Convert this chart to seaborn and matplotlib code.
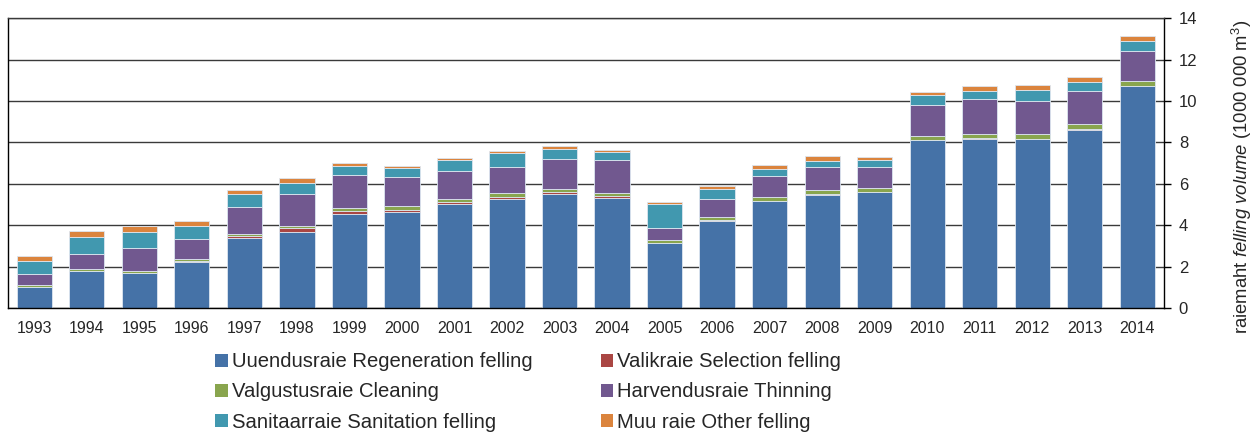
import numpy as np
import pandas as pd
import matplotlib
matplotlib.use("Agg")
import matplotlib.pyplot as plt
from matplotlib.patches import Patch
from matplotlib.ticker import MultipleLocator
import seaborn as sns

years = list(range(1993, 2015))
regeneration = [1.00, 1.78, 1.68, 2.22, 3.38, 3.68, 4.56, 4.66, 5.04, 5.28, 5.52,
                5.33, 3.13, 4.21, 5.15, 5.48, 5.59, 8.11, 8.17, 8.14, 8.61, 10.71]
selection = [0.02, 0.02, 0.03, 0.05, 0.08, 0.18, 0.14, 0.09, 0.08, 0.10, 0.10,
             0.06, 0.02, 0.02, 0.02, 0.02, 0.02, 0.02, 0.02, 0.02, 0.02, 0.02]
cleaning = [0.10, 0.07, 0.10, 0.11, 0.12, 0.09, 0.15, 0.16, 0.14, 0.16, 0.14,
            0.15, 0.12, 0.15, 0.18, 0.21, 0.18, 0.20, 0.21, 0.24, 0.25, 0.22]
thinning = [0.50, 0.75, 1.09, 0.95, 1.32, 1.54, 1.58, 1.43, 1.34, 1.25, 1.43,
            1.59, 0.58, 0.87, 1.01, 1.08, 1.02, 1.49, 1.68, 1.62, 1.62, 1.47]
sanitation = [0.67, 0.83, 0.75, 0.62, 0.59, 0.56, 0.42, 0.43, 0.56, 0.71, 0.47,
              0.41, 1.19, 0.51, 0.33, 0.31, 0.32, 0.47, 0.42, 0.52, 0.41, 0.48]
other = [0.20, 0.26, 0.32, 0.26, 0.21, 0.22, 0.14, 0.08, 0.08, 0.08, 0.16,
         0.08, 0.08, 0.13, 0.21, 0.26, 0.18, 0.16, 0.24, 0.23, 0.26, 0.22]

labels = ["Uuendusraie Regeneration felling", "Valikraie Selection felling",
          "Valgustusraie Cleaning", "Harvendusraie Thinning",
          "Sanitaarraie Sanitation felling", "Muu raie Other felling"]
colors = ["#4572A7", "#AA4643", "#89A54E", "#71588F", "#4198AF", "#DB843D"]
series = [regeneration, selection, cleaning, thinning, sanitation, other]

sns.set_style("white")
plt.rcParams["font.family"] = ["Liberation Sans", "DejaVu Sans"]
plt.rcParams["mathtext.fontset"] = "custom"
plt.rcParams["mathtext.rm"] = "Liberation Sans"
plt.rcParams["mathtext.it"] = "Liberation Sans:italic"

rows = []
for lab, vals in zip(labels, series):
    for y, v in zip(years, vals):
        rows.append({"year": y, "type": lab, "value": v})
df = pd.DataFrame(rows)

fig = plt.figure(figsize=(12.58, 4.32), dpi=100)
ax = fig.add_axes([0.0064, 0.287, 0.9185, 0.671])

# seaborn stacks with the last hue level at the bottom
hue_order = labels[::-1]
palette = dict(zip(labels, colors))
sns.histplot(data=df, x="year", weights="value", hue="type", hue_order=hue_order,
             multiple="stack", discrete=True, shrink=0.67, palette=palette,
             alpha=1, edgecolor="#dde6f0", linewidth=0.6, legend=False, ax=ax)

ax.set_xlim(1992.5, 2014.5)
ax.set_ylim(0, 14)
ax.set_xticks(years)
ax.set_xticklabels([str(y) for y in years], fontsize=11.5)
ax.xaxis.set_minor_locator(MultipleLocator(1, offset=0.5))
ax.tick_params(axis="x", which="major", length=0, pad=9.5)
ax.tick_params(axis="x", which="minor", length=5, width=1, color="black", direction="out")
ax.set_xlabel("")

ax.yaxis.set_major_locator(MultipleLocator(2))
ax.yaxis.tick_right()
ax.tick_params(axis="y", which="major", length=5, width=1, color="black",
               direction="out", labelsize=12, pad=6, right=True, left=False)
ax.set_ylabel("")
fig.text(0.987, 1 - 176.5 / 432, r"raiemaht $\it{felling\ volume}$ (1000 000 m$^3$)",
         rotation=90, ha="center", va="center", fontsize=13.3)

ax.grid(axis="y", color="#3a3a3a", linewidth=1.0)
ax.set_axisbelow(True)
for s in ax.spines.values():
    s.set_visible(True)
    s.set_color("black")
    s.set_linewidth(1.0)
ax.spines["top"].set_color("#3a3a3a")

order = [0, 2, 4, 1, 3, 5]
handles = [Patch(facecolor=colors[i], edgecolor="none") for i in order]
fig.legend(handles, [labels[i] for i in order], ncol=2, loc="center",
           bbox_to_anchor=(0.42, 0.0926), frameon=False, fontsize=14.6,
           handlelength=0.6, handleheight=0.6, handletextpad=0.2,
           labelspacing=0.55, columnspacing=3.4, borderpad=0.2)

fig.savefig("out.png", dpi=100)
